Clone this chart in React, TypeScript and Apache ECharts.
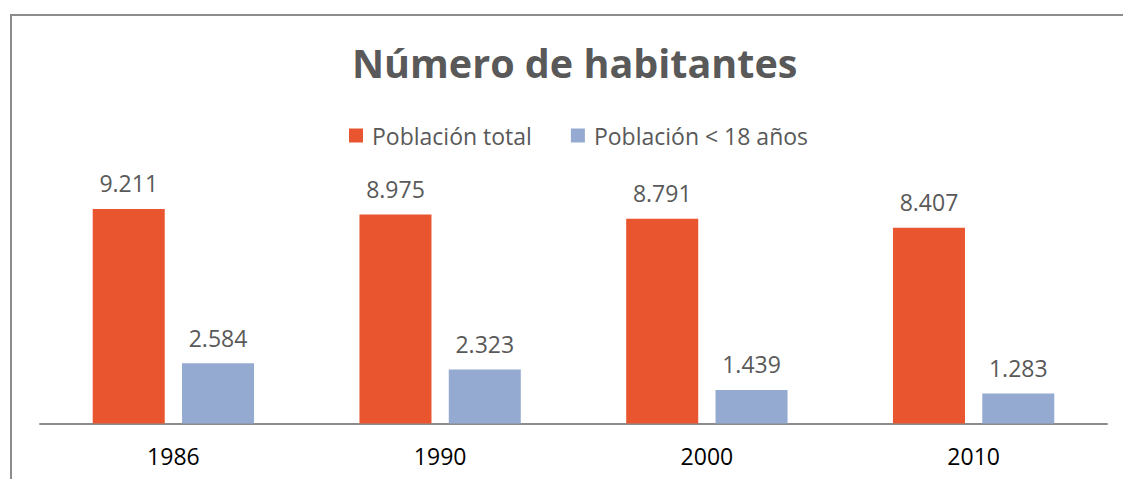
import React, { useEffect, useRef } from "react";
import * as echarts from "echarts";

const categories = ["1986", "1990", "2000", "2010"];
const totalPop = [9211, 8975, 8791, 8407];
const under18 = [2584, 2323, 1439, 1283];
const seriesNames = ["Población total", "Población < 18 años"];
const titleText = "Número de habitantes";

const fmt = (v: number) => (v / 1000).toFixed(3);

export default function App() {
  const ref = useRef<HTMLDivElement>(null);
  useEffect(() => {
    const chart = echarts.init(ref.current!, undefined, { renderer: "svg" });
    const font = "'Open Sans', 'Liberation Sans', sans-serif";
    const labelStyle = {
      show: true,
      position: "top",
      distance: 14,
      formatter: (p: any) => fmt(p.value),
      fontFamily: font,
      fontSize: 23,
      color: "#595959",
    };
    chart.setOption({
      animation: false,
      backgroundColor: "#ffffff",
      title: {
        text: titleText,
        left: 347,
        top: 38,
        textStyle: { fontFamily: font, fontSize: 39.5, fontWeight: "bold", color: "#595959" },
      },
      legend: {
        top: 119,
        left: 344,
        itemWidth: 14,
        itemHeight: 14,
        itemGap: 39,
        icon: "rect",
        textStyle: { fontFamily: font, fontSize: 23, color: "#595959", padding: [0, 0, 0, 4] },
        data: seriesNames,
      },
      grid: { left: 40, right: 16, top: 190.6, bottom: 55.5, containLabel: false },
      xAxis: {
        type: "category",
        data: categories,
        axisLine: { lineStyle: { color: "#8c8c8c", width: 2 } },
        axisTick: { show: false },
        axisLabel: { fontFamily: font, fontSize: 23, color: "#000000", margin: 21 },
      },
      yAxis: {
        type: "value",
        min: 0,
        max: 10000,
        show: false,
        splitLine: { show: false },
      },
      series: [
        {
          name: seriesNames[0],
          type: "bar",
          data: totalPop,
          barWidth: "27%",
          barGap: "24%",
          itemStyle: { color: "#e9552e" },
          label: labelStyle,
        },
        {
          name: seriesNames[1],
          type: "bar",
          data: under18,
          barWidth: "27%",
          itemStyle: { color: "#95aad1" },
          label: labelStyle,
        },
      ],
      graphic: [
        {
          type: "polyline",
          shape: { points: [[11, 479], [11, 15], [1123, 15]] },
          style: { stroke: "#8c8c8c", lineWidth: 2, fill: "none" },
          silent: true,
        },
      ],
    });
    return () => chart.dispose();
  }, []);
  return (
    <div
      ref={ref}
      style={{ position: "absolute", left: 0, top: 0, width: 1123, height: 479 }}
    />
  );
}
